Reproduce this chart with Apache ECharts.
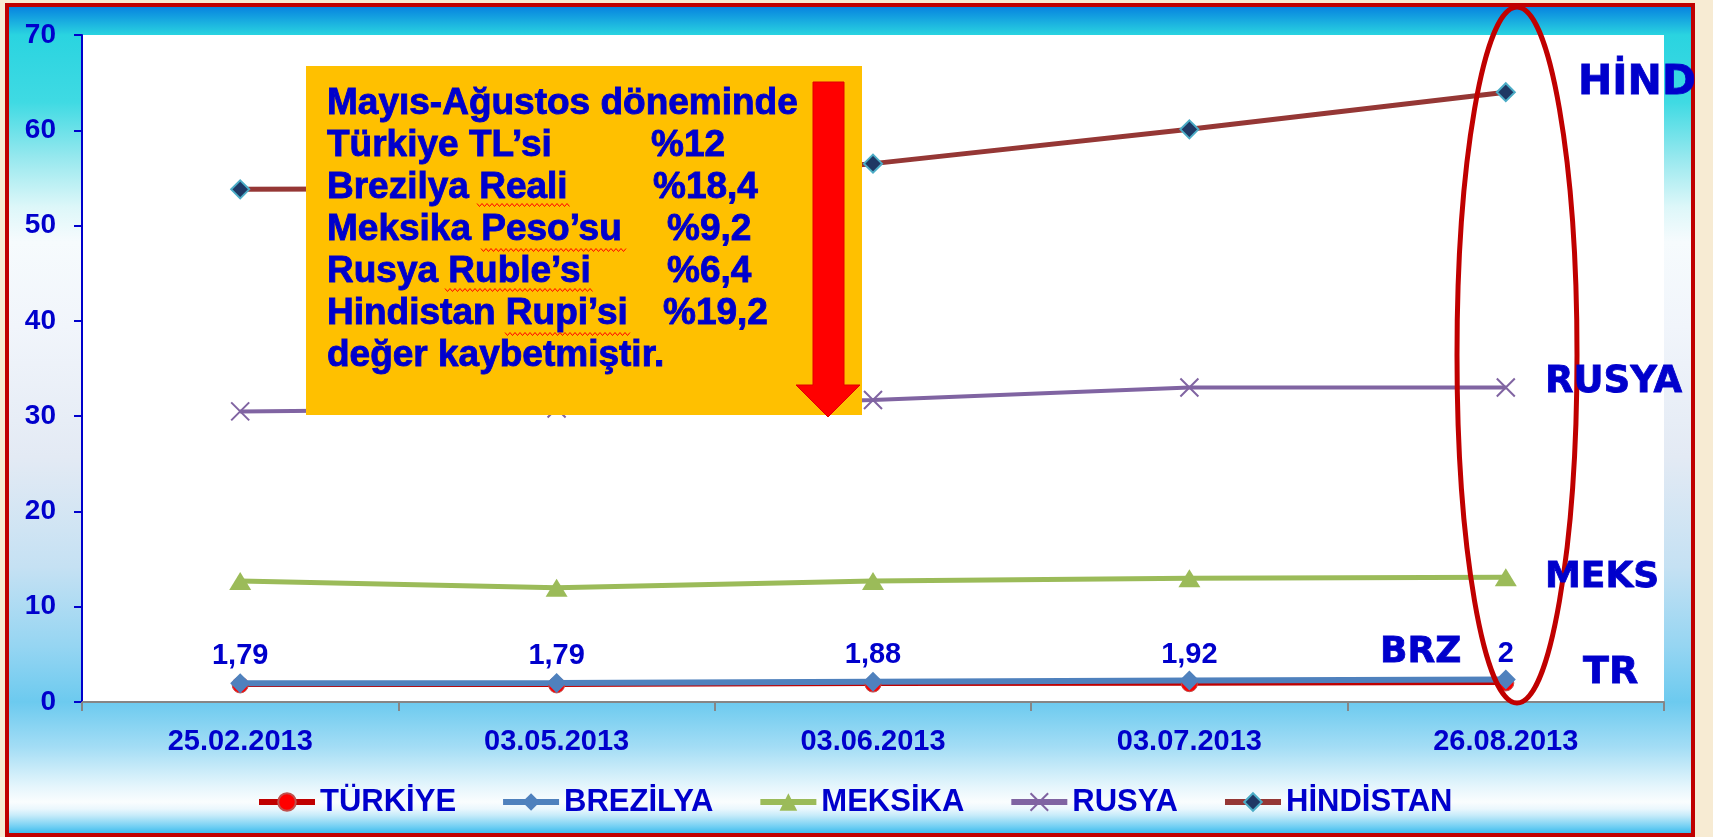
<!DOCTYPE html>
<html>
<head>
<meta charset="utf-8">
<script src="https://cdn.jsdelivr.net/npm/echarts@6.0.0/dist/echarts.min.js"></script>
<style>
  html, body { margin: 0; padding: 0; background: #f7ebd3; }
  #frame {
    position: absolute; left: 5px; top: 3px; width: 1690px; height: 834px;
    box-sizing: border-box; border: 4px solid #c00000;
    background: linear-gradient(to bottom,
      #0784e0 0px, #2ad4e0 28px, #3fdae3 95px, #96e8ee 150px, #ddf7f9 200px,
      #f6fbfd 235px, #f1f5fb 320px, #e3eaf4 450px, #c5e1f3 560px, #95d5f2 640px,
      #6ccaef 695px, #a3ddf5 740px, #e6f6fc 780px, #fafdfe 795px, #eaf7fd 802px,
      #c9ecfa 808px, #9dddf6 814px, #6fcef3 820px, #3fbcee 826px);
  }
  #main { position: absolute; left: 0; top: 0; width: 1713px; height: 837px; }
</style>
</head>
<body>
<div id="frame"></div>
<div id="main"></div>
<script>
const dates = ['25.02.2013', '03.05.2013', '03.06.2013', '03.07.2013', '26.08.2013'];
const turkiye = [1.79, 1.79, 1.88, 1.92, 2.0];
const brezilya = [1.98, 2.0, 2.13, 2.25, 2.37];
const meksika = [12.7, 12.0, 12.7, 13.0, 13.1];
const rusya = [30.5, 30.8, 31.7, 33.0, 33.0];
const hindistan = [53.8, 53.9, 56.5, 60.1, 64.0];

const boxLines = ['Mayıs-Ağustos döneminde', 'Türkiye TL’si', 'Brezilya Reali', 'Meksika Peso’su', 'Rusya Ruble’si', 'Hindistan Rupi’si', 'değer kaybetmiştir.'];
const boxRates = ['', '%12', '%18,4', '%9,2', '%6,4', '%19,2', ''];

const BLUE = '#0000cc';
const chart = echarts.init(document.getElementById('main'));

// box text + small red wavy underlines (spell check marks)
const boxTexts = [];
const rateX = [0, 651, 653, 667, 667, 663, 0];
boxLines.forEach((t, i) => {
    const y = 104 + i * 42;
    const st = { x: 327, y: y, font: 'bold 37px "Liberation Sans", Arial', fill: BLUE, stroke: BLUE, lineWidth: 0.9, textVerticalAlign: 'middle' };
    boxTexts.push({ type: 'text', z: 101, style: Object.assign({}, st, { text: t }) });
    if (boxRates[i]) {
        boxTexts.push({ type: 'text', z: 101, style: Object.assign({}, st, { text: boxRates[i], x: rateX[i] }) });
    }
});
function wavy(x1, x2, y) {
    const pts = [];
    for (let x = x1, k = 0; x <= x2; x += 2.5, k++) pts.push([x, y + (k % 2 ? 1.5 : -1.5)]);
    return { type: 'polyline', z: 101, shape: { points: pts }, style: { stroke: '#ff0000', lineWidth: 1, fill: null } };
}
boxTexts.push(wavy(477, 571, 205), wavy(481, 628, 250), wavy(445, 593, 290), wavy(505, 630, 334));

function sideLabel(text, x, y, size) {
    return { type: 'text', z: 110, style: { text: text, x: x, y: y, font: 'bold ' + size + 'px "DejaVu Sans"', fill: BLUE, stroke: BLUE, lineWidth: 0.8, textVerticalAlign: 'middle' } };
}

const option = {
    backgroundColor: 'transparent',
    animation: false,
    grid: { left: 82, right: 49, top: 35, bottom: 135, show: true, backgroundColor: '#ffffff', borderWidth: 0 },
    legend: {
        left: 251, top: 780,
        itemWidth: 56, itemHeight: 22, itemGap: 44,
        lineStyle: { width: 6 },
        textStyle: { color: BLUE, fontSize: 31, fontWeight: 'bold', fontFamily: '"Liberation Sans", Arial', lineHeight: 34 },
        data: ['TÜRKİYE', 'BREZİLYA', 'MEKSİKA', 'RUSYA', 'HİNDİSTAN']
    },
    xAxis: {
        type: 'category',
        data: dates,
        boundaryGap: true,
        axisLine: { lineStyle: { color: '#868686', width: 2 } },
        axisTick: { show: true, length: 9, interval: 0, lineStyle: { color: '#868686', width: 2 } },
        axisLabel: { color: BLUE, fontSize: 29, fontWeight: 'bold', fontFamily: '"Liberation Sans", Arial', margin: 25, interval: 0 },
        splitLine: { show: false }
    },
    yAxis: {
        type: 'value',
        min: 0, max: 70, interval: 10,
        axisLine: { show: true, lineStyle: { color: BLUE, width: 2 } },
        axisTick: { show: true, length: 8, lineStyle: { color: BLUE, width: 2 } },
        axisLabel: { color: BLUE, fontSize: 28, fontWeight: 'bold', fontFamily: '"Liberation Sans", Arial', margin: 26 },
        splitLine: { show: false }
    },
    series: [
        {
            name: 'TÜRKİYE', type: 'line', data: turkiye,
            symbol: 'circle', symbolSize: 16,
            lineStyle: { color: '#c00000', width: 4 },
            itemStyle: { color: '#ff0000', borderColor: '#c0504d', borderWidth: 1 },
            label: {
                show: true, position: 'top', distance: 6,
                color: BLUE, fontSize: 29, fontWeight: 'bold', fontFamily: '"Liberation Sans", Arial',
                formatter: p => String(p.value).replace('.', ',')
            }
        },
        {
            name: 'BREZİLYA', type: 'line', data: brezilya,
            symbol: 'diamond', symbolSize: 20,
            lineStyle: { color: '#4f81bd', width: 6 },
            itemStyle: { color: '#4f81bd' }
        },
        {
            name: 'MEKSİKA', type: 'line', data: meksika,
            symbol: 'triangle', symbolSize: [22, 18],
            lineStyle: { color: '#9bbb59', width: 5 },
            itemStyle: { color: '#9bbb59' }
        },
        {
            name: 'RUSYA', type: 'line', data: rusya,
            symbol: 'path://M0,0L10,10M10,0L0,10', symbolSize: 18,
            lineStyle: { color: '#8064a2', width: 4 },
            itemStyle: { color: '#8064a2', borderColor: '#8064a2', borderWidth: 2 }
        },
        {
            name: 'HİNDİSTAN', type: 'line', data: hindistan,
            symbol: 'diamond', symbolSize: 18,
            lineStyle: { color: '#953735', width: 5 },
            itemStyle: { color: '#1f3864', borderColor: '#4bacc6', borderWidth: 2 }
        }
    ],
    graphic: [
        { type: 'rect', z: 100, shape: { x: 306, y: 66, width: 556, height: 349 }, style: { fill: '#ffc000' } },
        {
            type: 'polygon', z: 102,
            shape: { points: [[813, 82], [844, 82], [844, 385], [860, 385], [828, 417], [796, 385], [813, 385]] },
            style: { fill: '#ff0000', stroke: '#e00000', lineWidth: 1 }
        },
        ...boxTexts,
        { type: 'ellipse', z: 105, shape: { cx: 1517, cy: 355, rx: 60, ry: 348 }, style: { fill: null, stroke: '#c00000', lineWidth: 5 } },
        sideLabel('HİND', 1578, 83, 41),
        sideLabel('RUSYA', 1545, 382, 37),
        sideLabel('MEKS', 1545, 578, 36),
        sideLabel('BRZ', 1380, 653, 36),
        sideLabel('TR', 1583, 673, 38)
    ]
};

chart.setOption(option);
</script>
</body>
</html>
